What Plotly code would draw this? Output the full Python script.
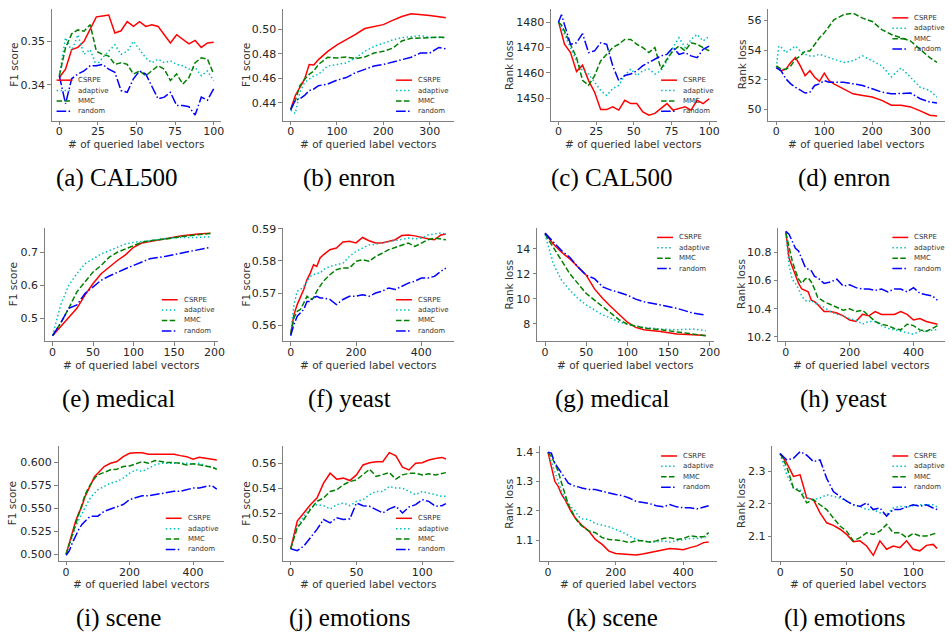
import plotly.graph_objects as go

# ---------------- data ----------------
methods = ["CSRPE", "adaptive", "MMC", "random"]

# (a) CAL500 F1
a_x = [0, 4, 8, 12, 16, 20, 24, 28, 32, 36, 40, 44, 48, 52, 56, 60, 64, 68, 72, 76, 80, 84, 88, 92, 96, 100]
a_csrpe = [0.3417, 0.3436, 0.3481, 0.3486, 0.3500, 0.3529, 0.3556, 0.3558, 0.3560, 0.3519, 0.3524, 0.3545, 0.3534, 0.3545, 0.3534, 0.3538, 0.3534, 0.3515, 0.3496, 0.3515, 0.3505, 0.3494, 0.3502, 0.3486, 0.3496, 0.3498]
a_adaptive = [0.3421, 0.3508, 0.3477, 0.3515, 0.3470, 0.3481, 0.3444, 0.3462, 0.3477, 0.3492, 0.3470, 0.3477, 0.3500, 0.3481, 0.3462, 0.3451, 0.3459, 0.3451, 0.3455, 0.3447, 0.3444, 0.3436, 0.3440, 0.3421, 0.3432, 0.3410]
a_mmc = [0.3421, 0.3485, 0.3517, 0.3526, 0.3523, 0.3538, 0.3477, 0.3470, 0.3466, 0.3447, 0.3451, 0.3447, 0.3425, 0.3432, 0.3421, 0.3432, 0.3444, 0.3436, 0.3410, 0.3425, 0.3402, 0.3417, 0.3451, 0.3462, 0.3459, 0.3425]
a_random = [0.3421, 0.3357, 0.3414, 0.3425, 0.3432, 0.3444, 0.3444, 0.3447, 0.3436, 0.3429, 0.3387, 0.3383, 0.3414, 0.3432, 0.3425, 0.3395, 0.3368, 0.3372, 0.3383, 0.3353, 0.3353, 0.3350, 0.3331, 0.3372, 0.3365, 0.3391]
a_xticks = [0, 25, 50, 75, 100]
a_yticks = [0.34, 0.35]

# (b) enron F1
b_x = [0, 10, 20, 30, 40, 50, 60, 80, 100, 120, 140, 160, 180, 200, 220, 240, 260, 280, 300, 320, 335]
b_csrpe = [0.4344, 0.4459, 0.4525, 0.4592, 0.4712, 0.4707, 0.4752, 0.4819, 0.4872, 0.4912, 0.4957, 0.5005, 0.5024, 0.5037, 0.5072, 0.5104, 0.5125, 0.5120, 0.5112, 0.5101, 0.5093]
b_adaptive = [0.4339, 0.4312, 0.4485, 0.4565, 0.4592, 0.4619, 0.4632, 0.4699, 0.4712, 0.4725, 0.4765, 0.4819, 0.4859, 0.4885, 0.4912, 0.4931, 0.4939, 0.4947, 0.4933, 0.4933, 0.4933]
b_mmc = [0.4344, 0.4419, 0.4539, 0.4592, 0.4632, 0.4659, 0.4712, 0.4771, 0.4765, 0.4773, 0.4760, 0.4773, 0.4805, 0.4819, 0.4845, 0.4904, 0.4925, 0.4931, 0.4931, 0.4936, 0.4931]
b_random = [0.4344, 0.4419, 0.4432, 0.4459, 0.4499, 0.4512, 0.4539, 0.4552, 0.4584, 0.4605, 0.4645, 0.4672, 0.4699, 0.4712, 0.4733, 0.4752, 0.4771, 0.4805, 0.4805, 0.4851, 0.4840]
b_xticks = [0, 100, 200, 300]
b_yticks = [0.44, 0.46, 0.48, 0.50]

# (c) CAL500 rank loss
c_x = [0, 2, 4, 8, 12, 16, 20, 24, 28, 32, 36, 40, 44, 48, 52, 56, 60, 64, 68, 72, 76, 80, 84, 88, 92, 96, 100]
c_csrpe = [1480.4, 1476.0, 1471.3, 1468.0, 1460.5, 1463.0, 1456.9, 1452.3, 1445.4, 1445.4, 1446.5, 1445.2, 1449.1, 1447.8, 1447.8, 1444.5, 1443.2, 1443.9, 1445.8, 1447.8, 1445.2, 1445.8, 1446.5, 1445.2, 1449.1, 1447.8, 1449.7]
c_adaptive = [1480.0, 1478.0, 1475.2, 1470.0, 1464.7, 1460.8, 1459.5, 1456.3, 1453.0, 1451.0, 1453.7, 1455.0, 1458.9, 1461.5, 1458.9, 1460.8, 1461.5, 1459.5, 1460.8, 1464.7, 1470.0, 1473.9, 1470.0, 1473.2, 1475.2, 1472.6, 1474.5]
c_mmc = [1480.0, 1479.0, 1476.5, 1471.3, 1466.0, 1457.0, 1455.0, 1458.9, 1464.7, 1467.3, 1470.0, 1471.3, 1473.2, 1473.2, 1471.3, 1470.0, 1468.0, 1470.0, 1461.5, 1465.4, 1468.7, 1470.6, 1468.7, 1471.9, 1471.3, 1470.0, 1468.7]
c_random = [1480.0, 1483.0, 1479.1, 1471.3, 1471.9, 1475.5, 1468.0, 1468.7, 1471.9, 1471.3, 1462.8, 1456.9, 1458.9, 1459.5, 1460.8, 1462.8, 1464.1, 1465.4, 1466.7, 1467.3, 1470.0, 1467.3, 1468.0, 1466.7, 1466.0, 1469.3, 1470.6]
c_xticks = [0, 25, 50, 75, 100]
c_yticks = [1450, 1460, 1470, 1480]

# (d) enron rank loss
d_x = [0, 5, 10, 20, 30, 40, 50, 60, 70, 80, 90, 100, 110, 120, 140, 160, 180, 200, 220, 240, 260, 280, 300, 320, 335]
d_csrpe = [52.83, 52.70, 52.61, 52.72, 53.17, 53.50, 52.94, 52.28, 52.61, 52.17, 51.90, 52.45, 51.95, 51.73, 51.40, 51.06, 50.95, 50.84, 50.62, 50.29, 50.29, 50.18, 49.91, 49.62, 49.56]
d_adaptive = [52.83, 54.27, 54.20, 53.83, 54.05, 54.27, 53.94, 53.72, 53.61, 53.61, 53.72, 53.61, 53.50, 53.39, 53.17, 53.28, 53.61, 53.28, 52.94, 52.20, 52.80, 52.17, 51.50, 51.28, 50.84]
d_mmc = [52.94, 52.80, 52.72, 52.72, 52.94, 53.39, 53.61, 53.94, 53.94, 54.38, 54.83, 55.16, 55.60, 56.04, 56.38, 56.49, 56.15, 55.93, 55.38, 55.05, 54.83, 54.61, 54.05, 53.50, 53.17]
d_random = [52.83, 52.70, 52.61, 52.06, 51.73, 51.50, 51.28, 51.11, 51.17, 51.62, 51.73, 51.95, 51.84, 51.84, 51.84, 51.73, 51.62, 51.40, 51.17, 51.06, 51.06, 51.11, 50.73, 50.51, 50.44]
d_xticks = [0, 100, 200, 300]
d_yticks = [50, 52, 54, 56]

# (e) medical F1
e_x = [0, 10, 20, 30, 40, 50, 60, 70, 80, 90, 100, 110, 120, 140, 160, 180, 195]
e_csrpe = [0.447, 0.475, 0.500, 0.530, 0.570, 0.605, 0.635, 0.655, 0.675, 0.692, 0.715, 0.728, 0.732, 0.740, 0.750, 0.755, 0.758]
e_adaptive = [0.447, 0.540, 0.600, 0.635, 0.665, 0.680, 0.695, 0.705, 0.715, 0.725, 0.730, 0.732, 0.735, 0.742, 0.745, 0.745, 0.747]
e_mmc = [0.447, 0.485, 0.530, 0.580, 0.610, 0.640, 0.660, 0.685, 0.700, 0.710, 0.722, 0.730, 0.735, 0.740, 0.748, 0.752, 0.757]
e_random = [0.447, 0.485, 0.530, 0.540, 0.575, 0.595, 0.615, 0.628, 0.640, 0.650, 0.660, 0.670, 0.680, 0.688, 0.698, 0.708, 0.715]
e_xticks = [0, 50, 100, 150, 200]
e_yticks = [0.5, 0.6, 0.7]

# (f) yeast F1
f_x = [0, 10, 20, 30, 40, 50, 60, 70, 80, 90, 100, 120, 140, 160, 180, 200, 220, 240, 260, 280, 300, 320, 340, 360, 380, 400, 420, 440, 460, 475]
f_csrpe = [0.5571, 0.5633, 0.5664, 0.5685, 0.5711, 0.5742, 0.5762, 0.5788, 0.5783, 0.5809, 0.5819, 0.5835, 0.5840, 0.5859, 0.5861, 0.5856, 0.5873, 0.5863, 0.5856, 0.5856, 0.5861, 0.5866, 0.5879, 0.5881, 0.5878, 0.5873, 0.5869, 0.5866, 0.5881, 0.5884]
f_adaptive = [0.5571, 0.5664, 0.5706, 0.5711, 0.5721, 0.5737, 0.5752, 0.5757, 0.5762, 0.5762, 0.5773, 0.5783, 0.5788, 0.5793, 0.5814, 0.5830, 0.5840, 0.5850, 0.5852, 0.5856, 0.5859, 0.5863, 0.5866, 0.5871, 0.5869, 0.5871, 0.5881, 0.5883, 0.5887, 0.5884]
f_mmc = [0.5571, 0.5623, 0.5643, 0.5649, 0.5669, 0.5690, 0.5680, 0.5685, 0.5706, 0.5721, 0.5737, 0.5757, 0.5773, 0.5778, 0.5778, 0.5799, 0.5804, 0.5799, 0.5814, 0.5824, 0.5835, 0.5842, 0.5850, 0.5856, 0.5845, 0.5856, 0.5866, 0.5871, 0.5869, 0.5866]
f_random = [0.5567, 0.5602, 0.5628, 0.5638, 0.5649, 0.5674, 0.5674, 0.5685, 0.5690, 0.5685, 0.5685, 0.5680, 0.5664, 0.5680, 0.5690, 0.5690, 0.5695, 0.5690, 0.5700, 0.5706, 0.5716, 0.5711, 0.5721, 0.5731, 0.5737, 0.5747, 0.5747, 0.5752, 0.5768, 0.5778]
f_xticks = [0, 200, 400]
f_yticks = [0.56, 0.57, 0.58, 0.59]

# (g) medical rank loss
g_x = [0, 10, 20, 30, 40, 50, 60, 70, 80, 90, 100, 110, 120, 140, 160, 180, 195]
g_csrpe = [15.27, 14.40, 13.74, 13.21, 12.55, 11.90, 10.80, 10.03, 9.37, 8.71, 8.13, 7.71, 7.52, 7.39, 7.18, 7.13, 7.07]
g_adaptive = [15.19, 12.81, 11.49, 10.70, 10.03, 9.51, 9.11, 8.71, 8.45, 8.13, 7.97, 7.87, 7.71, 7.58, 7.52, 7.58, 7.44]
g_mmc = [15.19, 14.13, 13.07, 12.02, 11.22, 10.43, 9.90, 9.37, 8.85, 8.32, 7.97, 7.79, 7.66, 7.52, 7.34, 7.18, 7.05]
g_random = [15.27, 14.53, 13.87, 13.34, 12.55, 11.89, 11.62, 10.96, 10.70, 10.51, 10.30, 9.98, 9.77, 9.51, 9.24, 8.85, 8.71]
g_xticks = [0, 50, 100, 150, 200]
g_yticks = [8, 10, 12, 14]

# (h) yeast rank loss
h_x = f_x
h_csrpe = [10.95, 10.76, 10.70, 10.64, 10.58, 10.54, 10.53, 10.52, 10.46, 10.45, 10.43, 10.38, 10.38, 10.37, 10.35, 10.32, 10.31, 10.36, 10.35, 10.38, 10.36, 10.36, 10.36, 10.38, 10.36, 10.32, 10.33, 10.31, 10.30, 10.29]
h_adaptive = [10.94, 10.71, 10.61, 10.58, 10.54, 10.49, 10.46, 10.45, 10.46, 10.44, 10.43, 10.41, 10.38, 10.36, 10.35, 10.33, 10.32, 10.29, 10.31, 10.31, 10.28, 10.26, 10.25, 10.24, 10.23, 10.22, 10.24, 10.24, 10.25, 10.25]
h_mmc = [10.94, 10.83, 10.74, 10.67, 10.61, 10.58, 10.61, 10.62, 10.59, 10.54, 10.48, 10.45, 10.43, 10.41, 10.39, 10.40, 10.38, 10.39, 10.35, 10.31, 10.29, 10.28, 10.26, 10.25, 10.29, 10.28, 10.25, 10.24, 10.26, 10.28]
h_random = [10.95, 10.93, 10.88, 10.83, 10.81, 10.76, 10.70, 10.68, 10.67, 10.63, 10.62, 10.58, 10.59, 10.61, 10.56, 10.57, 10.55, 10.54, 10.54, 10.53, 10.54, 10.52, 10.54, 10.54, 10.52, 10.55, 10.51, 10.50, 10.49, 10.46]
h_xticks = [0, 200, 400]
h_yticks = [10.2, 10.4, 10.6, 10.8]

# (i) scene F1
i_x = f_x
i_csrpe = [0.5000, 0.5126, 0.5253, 0.5361, 0.5451, 0.5523, 0.5632, 0.5704, 0.5794, 0.5848, 0.5884, 0.5957, 0.5993, 0.6011, 0.6065, 0.6101, 0.6108, 0.6108, 0.6090, 0.6090, 0.6083, 0.6083, 0.6090, 0.6076, 0.6065, 0.6036, 0.6058, 0.6047, 0.6040, 0.6029]
i_adaptive = [0.5000, 0.5090, 0.5199, 0.5307, 0.5379, 0.5451, 0.5523, 0.5578, 0.5632, 0.5668, 0.5704, 0.5740, 0.5776, 0.5794, 0.5830, 0.5884, 0.5921, 0.5903, 0.5939, 0.5975, 0.5993, 0.5993, 0.5993, 0.6000, 0.5993, 0.5986, 0.5993, 0.5964, 0.5949, 0.5939]
i_mmc = [0.5000, 0.5108, 0.5217, 0.5343, 0.5451, 0.5560, 0.5650, 0.5722, 0.5776, 0.5830, 0.5866, 0.5892, 0.5921, 0.5928, 0.5957, 0.5964, 0.5986, 0.6011, 0.5993, 0.6022, 0.6011, 0.6000, 0.6000, 0.5993, 0.5975, 0.5986, 0.5975, 0.5964, 0.5949, 0.5928]
i_random = [0.4989, 0.5036, 0.5126, 0.5199, 0.5271, 0.5325, 0.5361, 0.5397, 0.5415, 0.5415, 0.5415, 0.5469, 0.5495, 0.5516, 0.5542, 0.5596, 0.5614, 0.5639, 0.5639, 0.5650, 0.5661, 0.5668, 0.5686, 0.5686, 0.5704, 0.5722, 0.5722, 0.5740, 0.5747, 0.5711]
i_xticks = [0, 200, 400]
i_yticks = [0.500, 0.525, 0.550, 0.575, 0.600]

# (j) emotions F1
j_x = [0, 5, 10, 15, 20, 25, 30, 35, 40, 45, 50, 55, 60, 65, 70, 75, 80, 85, 90, 95, 100, 105, 110, 115, 118]
j_csrpe = [0.492, 0.514, 0.5205, 0.5271, 0.5324, 0.5442, 0.5521, 0.5474, 0.5482, 0.5463, 0.5508, 0.5587, 0.5605, 0.5613, 0.5613, 0.5685, 0.5660, 0.5570, 0.5547, 0.5600, 0.5605, 0.5626, 0.5639, 0.5647, 0.5634]
j_adaptive = [0.492, 0.510, 0.5179, 0.5245, 0.5271, 0.5263, 0.5237, 0.5271, 0.5284, 0.5263, 0.5297, 0.5311, 0.5350, 0.5376, 0.5376, 0.5416, 0.5403, 0.5403, 0.5376, 0.5350, 0.5376, 0.5363, 0.5350, 0.5337, 0.5337]
j_mmc = [0.492, 0.5087, 0.5153, 0.5232, 0.5297, 0.5324, 0.5376, 0.5389, 0.5429, 0.5455, 0.5468, 0.5508, 0.5553, 0.5495, 0.5508, 0.5526, 0.5474, 0.5508, 0.5521, 0.5521, 0.5508, 0.5516, 0.5508, 0.5516, 0.5526]
j_random = [0.492, 0.4905, 0.4942, 0.5008, 0.5074, 0.5153, 0.5126, 0.5166, 0.5153, 0.5158, 0.5284, 0.5263, 0.5258, 0.5232, 0.5205, 0.5237, 0.5258, 0.5205, 0.5253, 0.5271, 0.5311, 0.5297, 0.5258, 0.5263, 0.5279]
j_xticks = [0, 50, 100]
j_yticks = [0.50, 0.52, 0.54, 0.56]

# (k) scene rank loss
k_x = f_x
k_csrpe = [1.400, 1.346, 1.301, 1.284, 1.256, 1.239, 1.216, 1.194, 1.177, 1.165, 1.151, 1.132, 1.103, 1.086, 1.063, 1.055, 1.053, 1.053, 1.050, 1.053, 1.058, 1.064, 1.067, 1.072, 1.070, 1.068, 1.075, 1.081, 1.092, 1.094]
k_adaptive = [1.400, 1.368, 1.335, 1.301, 1.267, 1.244, 1.227, 1.211, 1.200, 1.182, 1.173, 1.171, 1.157, 1.151, 1.146, 1.137, 1.128, 1.115, 1.103, 1.098, 1.094, 1.094, 1.098, 1.094, 1.098, 1.103, 1.106, 1.106, 1.109, 1.115]
k_mmc = [1.400, 1.385, 1.363, 1.335, 1.295, 1.261, 1.222, 1.200, 1.177, 1.160, 1.149, 1.132, 1.126, 1.109, 1.103, 1.101, 1.098, 1.092, 1.098, 1.098, 1.094, 1.098, 1.106, 1.109, 1.103, 1.106, 1.115, 1.112, 1.112, 1.126]
k_random = [1.400, 1.397, 1.363, 1.346, 1.329, 1.312, 1.295, 1.289, 1.284, 1.282, 1.278, 1.273, 1.273, 1.267, 1.261, 1.256, 1.252, 1.244, 1.233, 1.230, 1.225, 1.218, 1.214, 1.222, 1.214, 1.211, 1.211, 1.207, 1.214, 1.218]
k_xticks = [0, 200, 400]
k_yticks = [1.1, 1.2, 1.3, 1.4]

# (l) emotions rank loss
l_x = j_x
l_csrpe = [2.356, 2.326, 2.285, 2.290, 2.218, 2.213, 2.172, 2.141, 2.133, 2.121, 2.105, 2.082, 2.085, 2.069, 2.040, 2.085, 2.059, 2.069, 2.064, 2.085, 2.059, 2.054, 2.071, 2.074, 2.061]
l_adaptive = [2.356, 2.290, 2.249, 2.244, 2.218, 2.213, 2.218, 2.228, 2.223, 2.218, 2.208, 2.197, 2.192, 2.182, 2.182, 2.172, 2.167, 2.187, 2.192, 2.190, 2.194, 2.197, 2.197, 2.197, 2.190]
l_mmc = [2.356, 2.315, 2.249, 2.238, 2.203, 2.213, 2.197, 2.182, 2.156, 2.131, 2.115, 2.085, 2.095, 2.110, 2.105, 2.115, 2.136, 2.110, 2.110, 2.095, 2.108, 2.100, 2.100, 2.105, 2.110]
l_random = [2.356, 2.336, 2.341, 2.362, 2.351, 2.331, 2.336, 2.279, 2.238, 2.223, 2.208, 2.197, 2.192, 2.203, 2.182, 2.187, 2.162, 2.182, 2.182, 2.190, 2.197, 2.192, 2.197, 2.187, 2.182]
l_xticks = [0, 50, 100]
l_yticks = [2.1, 2.2, 2.3]

# ---------------- layout / styling ----------------
W, H = 952, 637
colors = ["#ff0000", "#00bfbf", "#008000", "#0000ff"]
dashes = ["solid", "1.5px,2.5px", "5.5px,2.4px", "9.6px,2.4px,1.5px,2.4px"]

row_top = [4, 225, 446]
row_bot = [117, 340, 562]
xtitle_y = [141, 364, 585]
cap_y = [175, 398, 620]

panels = [
    dict(x=a_x, ys=[a_csrpe, a_adaptive, a_mmc, a_random], xr=[-5, 105], yr=[0.3318, 0.3574], xt=a_xticks, yt=a_yticks, fmt=".2f", yl="F1 score", cap="(a) CAL500", px=(52, 223), row=0, ytx=14, capx=118, leg=(57, 76)),
    dict(x=b_x, ys=[b_csrpe, b_adaptive, b_mmc, b_random], xr=[-16.75, 351.75], yr=[0.4253, 0.5165], xt=b_xticks, yt=b_yticks, fmt=".2f", yl="F1 score", cap="(b) enron", px=(285, 457), row=0, ytx=248, capx=352, leg=(399, 76)),
    dict(x=c_x, ys=[c_csrpe, c_adaptive, c_mmc, c_random], xr=[-5, 105], yr=[1441.0, 1485.3], xt=c_xticks, yt=c_yticks, fmt="d", yl="Rank loss", cap="(c) CAL500", px=(555, 722), row=0, ytx=513, capx=617, leg=(666, 76)),
    dict(x=d_x, ys=[d_csrpe, d_adaptive, d_mmc, d_random], xr=[-16.75, 351.75], yr=[49.25, 56.77], xt=d_xticks, yt=d_yticks, fmt="d", yl="Rank loss", cap="(d) enron", px=(774, 952), row=0, ytx=747, capx=851, leg=(899, 13)),
    dict(x=e_x, ys=[e_csrpe, e_adaptive, e_mmc, e_random], xr=[-9.75, 204.75], yr=[0.43, 0.775], xt=e_xticks, yt=e_yticks, fmt=".1f", yl="F1 score", cap="(e) medical", px=(45, 220), row=1, ytx=13, capx=119, leg=(163, 298)),
    dict(x=f_x, ys=[f_csrpe, f_adaptive, f_mmc, f_random], xr=[-23.75, 498.75], yr=[0.555, 0.5904], xt=f_xticks, yt=f_yticks, fmt=".2f", yl="F1 score", cap="(f) yeast", px=(285, 457), row=1, ytx=248, capx=352, leg=(399, 298)),
    dict(x=g_x, ys=[g_csrpe, g_adaptive, g_mmc, g_random], xr=[-9.75, 204.75], yr=[6.6, 15.72], xt=g_xticks, yt=g_yticks, fmt="d", yl="Rank loss", cap="(g) medical", px=(541, 719), row=1, ytx=513, capx=617, leg=(662, 235)),
    dict(x=h_x, ys=[h_csrpe, h_adaptive, h_mmc, h_random], xr=[-23.75, 498.75], yr=[10.169, 10.977], xt=h_xticks, yt=h_yticks, fmt=".1f", yl="Rank loss", cap="(h) yeast", px=(784, 952), row=1, ytx=747, capx=850, leg=(899, 235)),
    dict(x=i_x, ys=[i_csrpe, i_adaptive, i_mmc, i_random], xr=[-23.75, 498.75], yr=[0.4928, 0.618], xt=i_xticks, yt=i_yticks, fmt=".3f", yl="F1 score", cap="(i) scene", px=(59, 226), row=2, ytx=13, capx=119, leg=(167, 519)),
    dict(x=j_x, ys=[j_csrpe, j_adaptive, j_mmc, j_random], xr=[-5.9, 123.9], yr=[0.4824, 0.5737], xt=j_xticks, yt=j_yticks, fmt=".2f", yl="F1 score", cap="(j) emotions", px=(285, 457), row=2, ytx=248, capx=353, leg=(399, 519)),
    dict(x=k_x, ys=[k_csrpe, k_adaptive, k_mmc, k_random], xr=[-23.75, 498.75], yr=[1.03, 1.421], xt=k_xticks, yt=k_yticks, fmt=".1f", yl="Rank loss", cap="(k) scene", px=(544, 722), row=2, ytx=513, capx=617, leg=(666, 456)),
    dict(x=l_x, ys=[l_csrpe, l_adaptive, l_mmc, l_random], xr=[-5.9, 123.9], yr=[2.023, 2.379], xt=l_xticks, yt=l_yticks, fmt=".1f", yl="Rank loss", cap="(l) emotions", px=(778, 952), row=2, ytx=747, capx=851, leg=(899, 456)),
]

def fx(p):
    return p / W

def fy(p):
    return 1 - p / H

tick_font = dict(family="DejaVu Sans", size=11, color="#262626")
label_font = dict(family="DejaVu Sans", size=10.5, color="#333333")
leg_font = dict(family="DejaVu Sans", size=7, color="#333333")
cap_font = dict(family="Liberation Serif", size=25, color="#000000")
axis_grey = "#808080"

fig = go.Figure()
layout = dict(width=W, height=H, margin=dict(l=0, r=0, t=0, b=0),
              paper_bgcolor="white", plot_bgcolor="white", showlegend=False)
annotations = []
shapes = []

for idx, p in enumerate(panels):
    n = idx + 1
    sfx = "" if n == 1 else str(n)
    xa, ya = "x" + sfx, "y" + sfx
    r = p["row"]
    for m, ys in enumerate(p["ys"]):
        fig.add_trace(go.Scatter(x=p["x"], y=ys, mode="lines", name=methods[m],
                                 line=dict(color=colors[m], width=1.5, dash=dashes[m]),
                                 xaxis=xa, yaxis=ya, hoverinfo="skip"))
    common = dict(showgrid=False, zeroline=False, showline=True, linecolor=axis_grey,
                  linewidth=1, ticks="outside", ticklen=3.5, tickwidth=1, tickcolor=axis_grey,
                  tickfont=tick_font, fixedrange=True)
    layout["xaxis" + sfx] = dict(common, domain=[fx(p["px"][0]), min(1.0, fx(p["px"][1]))],
                                 range=p["xr"], tickvals=p["xt"], anchor=ya, ticklabelstandoff=-3)
    layout["yaxis" + sfx] = dict(common, domain=[fy(row_bot[r]), fy(row_top[r])],
                                 range=p["yr"], tickvals=p["yt"], tickformat=p["fmt"], anchor=xa)
    cx = (p["px"][0] + p["px"][1]) / 2
    annotations.append(dict(text="# of queried label vectors", x=fx(cx), y=fy(xtitle_y[r]),
                            xref="paper", yref="paper", showarrow=False, font=label_font,
                            xanchor="center", yanchor="middle"))
    annotations.append(dict(text=p["yl"], x=fx(p["ytx"]), y=fy((row_top[r] + row_bot[r]) / 2),
                            xref="paper", yref="paper", showarrow=False, font=label_font,
                            textangle=-90, xanchor="center", yanchor="middle"))
    annotations.append(dict(text=p["cap"], x=fx(p["capx"]), y=fy(cap_y[r]),
                            xref="paper", yref="paper", showarrow=False, font=cap_font,
                            xanchor="center", yanchor="middle"))
    lx, ly = p["leg"]
    for m in range(4):
        yy = ly + m * 10.5
        shapes.append(dict(type="line", xref="paper", yref="paper",
                           x0=fx(lx), x1=fx(lx + 16), y0=fy(yy), y1=fy(yy),
                           line=dict(color=colors[m], width=1.5, dash=dashes[m])))
        annotations.append(dict(text=methods[m], x=fx(lx + 20), y=fy(yy), xref="paper", yref="paper",
                                showarrow=False, font=leg_font, xanchor="left", yanchor="middle"))

layout["annotations"] = annotations
layout["shapes"] = shapes
fig.update_layout(**layout)
fig.write_html("out.html", config={"displayModeBar": False, "staticPlot": True},
               post_script="document.body.style.margin='0';document.body.style.overflow='hidden';")
